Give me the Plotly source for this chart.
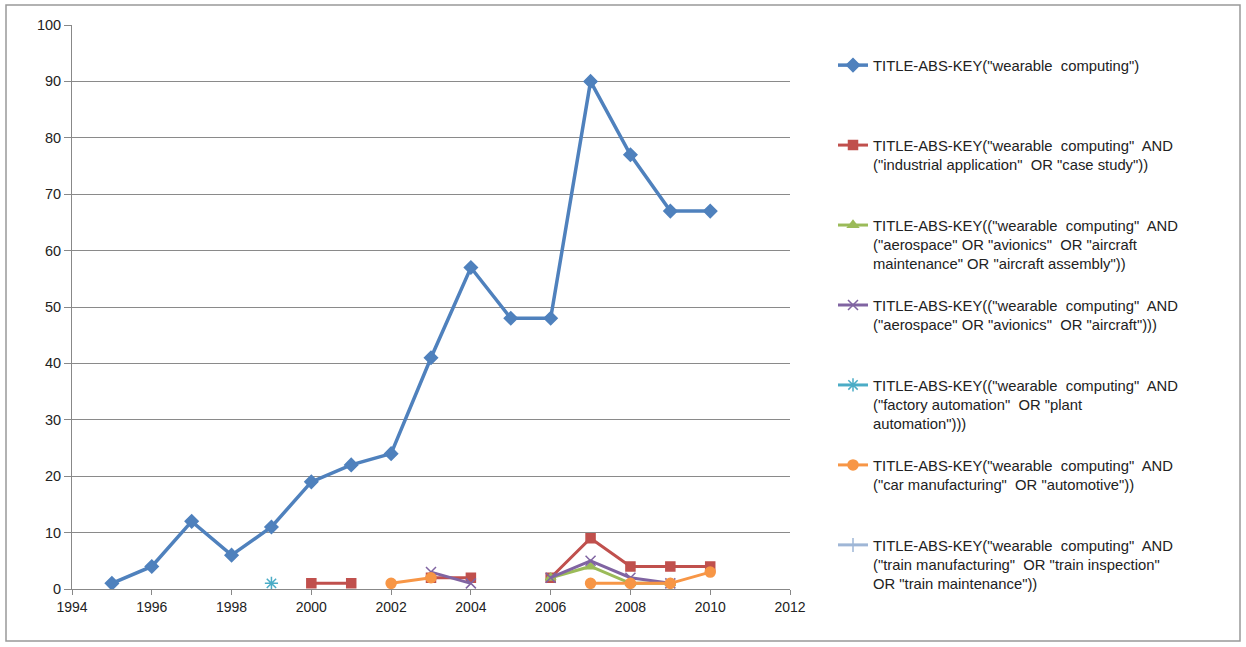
import plotly.graph_objects as go

# Publication counts per year for each Scopus query
years = list(range(1995, 2011))

wearable = [1, 4, 12, 6, 11, 19, 22, 24, 41, 57, 48, 48, 90, 77, 67, 67]
industrial = [None, None, None, None, None, 1, 1, None, 2, 2, None, 2, 9, 4, 4, 4]
aero_maint = [None, None, None, None, None, None, None, None, None, None, None, 2, 4, 1, 1, None]
aero_general = [None, None, None, None, None, None, None, None, 3, 1, None, 2, 5, 2, 1, None]
factory = [None, None, None, None, 1, None, None, None, None, None, None, None, None, None, None, None]
automotive = [None, None, None, None, None, None, None, 1, 2, None, None, None, 1, 1, 1, 3]
train = [None] * 16

series_names = [
    'TITLE-ABS-KEY("wearable  computing")',
    'TITLE-ABS-KEY("wearable  computing"  AND<br>("industrial application"  OR "case study"))',
    'TITLE-ABS-KEY(("wearable  computing"  AND<br>("aerospace" OR "avionics"  OR "aircraft<br>maintenance" OR "aircraft assembly"))',
    'TITLE-ABS-KEY(("wearable  computing"  AND<br>("aerospace" OR "avionics"  OR "aircraft")))',
    'TITLE-ABS-KEY(("wearable  computing"  AND<br>("factory automation"  OR "plant<br>automation")))',
    'TITLE-ABS-KEY("wearable  computing"  AND<br>("car manufacturing"  OR "automotive"))',
    'TITLE-ABS-KEY("wearable  computing"  AND<br>("train manufacturing"  OR "train inspection"<br>OR "train maintenance"))',
]

x_ticks = list(range(1994, 2013, 2))
y_ticks = list(range(0, 101, 10))

styles = [
    dict(color="#4F81BD", symbol="diamond", size=10, width=3.5),
    dict(color="#C0504D", symbol="square", size=9, width=3),
    dict(color="#9BBB59", symbol="triangle-up", size=9, width=3),
    dict(color="#8064A2", symbol="x-thin-open", size=10, width=3),
    dict(color="#4BACC6", symbol="asterisk-open", size=11, width=3),
    dict(color="#F79646", symbol="circle", size=10, width=3),
    dict(color="#9FB6D6", symbol="cross-thin-open", size=10, width=3),
]

all_series = [wearable, industrial, aero_maint, aero_general, factory, automotive, train]

# Pad legend entries to four text lines so entries are evenly spaced
def pad(name, lines=4):
    n = name.count("<br>") + 1
    return name + "<br> " * (lines - n)

fig = go.Figure()
last = len(all_series) - 1
for i, (vals, name, st) in enumerate(zip(all_series, series_names, styles)):
    fig.add_trace(go.Scatter(
        x=years, y=vals, name=name if i == last else pad(name), mode="lines+markers",
        connectgaps=False, legendgroup=f"g{i}",
        line=dict(color=st["color"], width=st["width"]),
        marker=dict(symbol=st["symbol"], size=st["size"], color=st["color"],
                    line=dict(color=st["color"], width=1.5)),
    ))

L, R, T, B = 72, 456, 25, 58
W, H = 1246, 647
pw, ph = W - L - R, H - T - B

fig.update_layout(
    width=W, height=H,
    margin=dict(l=L, r=R, t=T, b=B),
    paper_bgcolor="white", plot_bgcolor="white",
    font=dict(family="Liberation Sans, Arial, sans-serif", size=14, color="#222"),
    showlegend=True,
    legend=dict(
        x=(833 - L) / pw, y=(H - B - 49) / ph, xanchor="left", yanchor="top",
        valign="top", tracegroupgap=0, bgcolor="rgba(0,0,0,0)",
        font=dict(size=14.8, color="#222"), itemwidth=30,
    ),
    xaxis=dict(
        range=[1994, 2012], tickvals=x_ticks, ticktext=[str(v) for v in x_ticks],
        showgrid=False, zeroline=False, showline=True, linecolor="#888", linewidth=1,
        ticks="outside", ticklen=5, tickcolor="#888", tickfont=dict(size=14),
    ),
    yaxis=dict(
        range=[0, 100], tickvals=y_ticks, showgrid=True, gridcolor="#8a8a8a", gridwidth=1,
        zeroline=False, showline=True, linecolor="#888", linewidth=1,
        ticks="outside", ticklen=7, tickcolor="#888", tickfont=dict(size=14.5),
    ),
    shapes=[dict(
        type="rect", xref="paper", yref="paper",
        x0=(6 - L) / pw, x1=(1240 - L) / pw,
        y0=-(641 - (H - B)) / ph, y1=1 + (T - 5) / ph,
        line=dict(color="#999", width=1.5), fillcolor="rgba(0,0,0,0)", layer="below",
    )],
)

fig.write_html("out.html")
